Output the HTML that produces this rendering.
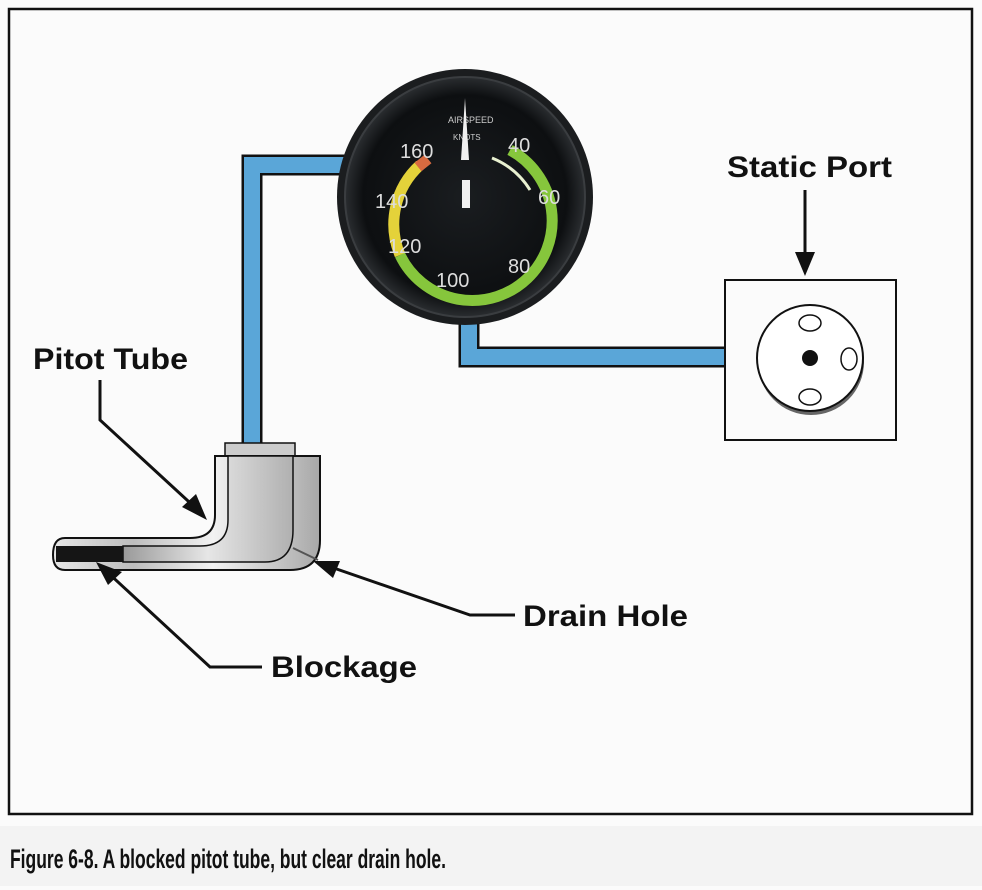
<!DOCTYPE html>
<html><head><meta charset="utf-8"><style>
html,body{margin:0;padding:0;background:#fff;}
svg{display:block;font-family:"Liberation Sans",sans-serif;}
</style></head><body>
<svg width="982" height="890" viewBox="0 0 982 890" xmlns="http://www.w3.org/2000/svg">
<defs>
<linearGradient id="metal" x1="0" x2="1" y1="0" y2="0">
<stop offset="0" stop-color="#e8e8e8"/><stop offset="0.3" stop-color="#bdbdbd"/><stop offset="0.6" stop-color="#f2f2f2"/><stop offset="1" stop-color="#a8a8a8"/>
</linearGradient>
<linearGradient id="metal2" x1="0" x2="1" y1="0" y2="0">
<stop offset="0" stop-color="#9a9a9a"/><stop offset="0.5" stop-color="#e6e6e6"/><stop offset="1" stop-color="#b0b0b0"/>
</linearGradient>
<radialGradient id="face" cx="0.5" cy="0.5" r="0.5">
<stop offset="0" stop-color="#1a1d20"/><stop offset="0.85" stop-color="#0d0f11"/><stop offset="1" stop-color="#2a2d30"/>
</radialGradient>
</defs>
<rect width="982" height="890" fill="#fbfbfb"/>
<rect x="9" y="9" width="963" height="805" fill="#fbfbfb" stroke="#111" stroke-width="2.5"/>
<rect x="0" y="826" width="982" height="60" fill="#f3f3f3"/>
<text x="10" y="868" font-size="27" font-weight="bold" fill="#111" textLength="436" lengthAdjust="spacingAndGlyphs">Figure 6-8. A blocked pitot tube, but clear drain hole.</text>

<!-- blue tubes -->
<path d="M252 447 V165 H350" fill="none" stroke="#111" stroke-width="21"/>
<path d="M252 447 V165 H350" fill="none" stroke="#5aa6d8" stroke-width="16"/>
<path d="M469 310 V357 H727" fill="none" stroke="#111" stroke-width="21"/>
<path d="M469 310 V357 H727" fill="none" stroke="#5aa6d8" stroke-width="16"/>

<!-- gauge -->
<circle cx="465" cy="197" r="128" fill="#1b1d1f"/>
<circle cx="465" cy="197" r="120" fill="url(#face)" stroke="#3a3d40" stroke-width="2"/>
<path d="M510 150 A 80 80 0 1 1 400 255" fill="none" stroke="#86c63c" stroke-width="11"/>
<path d="M400 255 A 80 80 0 0 1 420 165" fill="none" stroke="#e4d23a" stroke-width="11"/>
<path d="M418 167 l10 -8" stroke="#d86a40" stroke-width="11"/>
<path d="M492 158 A 80 80 0 0 1 530 190" fill="none" stroke="#e8f0d0" stroke-width="3"/>
<g fill="#ddd" font-size="20">
<text x="508" y="152">40</text><text x="538" y="204">60</text><text x="508" y="273">80</text>
<text x="436" y="287">100</text><text x="388" y="253">120</text><text x="375" y="208">140</text><text x="400" y="158">160</text>
</g>
<text x="448" y="123" font-size="9" fill="#ccc">AIRSPEED</text>
<text x="453" y="140" font-size="8" fill="#ccc">KNOTS</text>
<polygon points="465,98 469,160 461,160" fill="#f0f0f0"/>
<rect x="462" y="180" width="8" height="28" fill="#f0f0f0"/>

<!-- static port -->
<rect x="725" y="280" width="171" height="160" fill="#fbfbfb" stroke="#111" stroke-width="2"/>
<ellipse cx="811" cy="362" rx="53" ry="53" fill="#666"/>
<circle cx="810" cy="358" r="53" fill="#fff" stroke="#111" stroke-width="2"/>
<circle cx="810" cy="358" r="8" fill="#111"/>
<ellipse cx="810" cy="323" rx="11" ry="8" fill="#fff" stroke="#111" stroke-width="1.5"/>
<ellipse cx="849" cy="359" rx="8" ry="11" fill="#fff" stroke="#111" stroke-width="1.5"/>
<ellipse cx="810" cy="397" rx="11" ry="8" fill="#fff" stroke="#111" stroke-width="1.5"/>

<!-- pitot tube -->
<rect x="225" y="443" width="70" height="15" fill="#ccc" stroke="#111" stroke-width="1.5"/>
<path d="M215 456 H320 V540 Q320 570 290 570 H65 Q53 570 53 555 Q53 538 65 538 H190 Q215 538 215 515 Z" fill="url(#metal)" stroke="#111" stroke-width="2"/>
<path d="M228 456 H293 V530 Q293 562 265 562 H123 V546 H200 Q228 546 228 520 Z" fill="url(#metal2)" stroke="#111" stroke-width="1.5"/>
<rect x="56" y="546" width="67" height="16" fill="#151515"/>
<path d="M293 548 L318 560" stroke="#555" stroke-width="2"/>

<!-- arrows -->
<g stroke="#111" stroke-width="3" fill="none">
<path d="M100 380 V420 L200 512"/>
<path d="M805 190 V262"/>
<path d="M515 615 H470 L325 565"/>
<path d="M262 667 H210 L105 570"/>
</g>
<g fill="#111">
<polygon points="207,520 182,507 196,494"/>
<polygon points="805,276 795,252 815,252"/>
<polygon points="313,561 340,561 333,578"/>
<polygon points="96,562 122,572 108,585"/>
</g>

<g font-size="30" font-weight="bold" fill="#111">
<text x="33" y="369" textLength="155" lengthAdjust="spacingAndGlyphs">Pitot Tube</text>
<text x="727" y="177" textLength="165" lengthAdjust="spacingAndGlyphs">Static Port</text>
<text x="523" y="626" textLength="165" lengthAdjust="spacingAndGlyphs">Drain Hole</text>
<text x="271" y="677" textLength="146" lengthAdjust="spacingAndGlyphs">Blockage</text>
</g>
</svg>
</body></html>
